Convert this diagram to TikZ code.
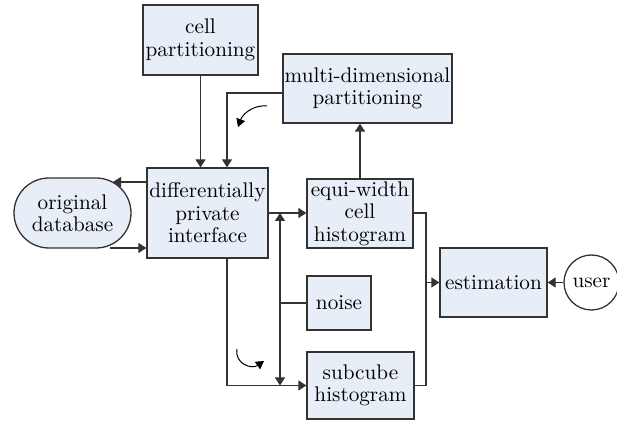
\documentclass[tikz,border=0pt]{standalone}
\usetikzlibrary{arrows.meta,calc,shapes.misc}
\definecolor{boxfill}{HTML}{E7EEF7}
\definecolor{edge}{HTML}{333333}
\begin{document}
\begin{tikzpicture}[x=0.5pt,y=-0.5pt,
  every node/.style={font=\fontsize{10.6}{11.2}\selectfont, inner sep=0pt},
  box/.style={draw=edge, line width=0.65pt, fill=boxfill, align=center},
  conn/.style={draw=edge, line width=0.65pt},
  arr/.style={conn, -{Triangle[length=4pt,width=5pt]}},
  darr/.style={conn, {Triangle[length=4pt,width=5pt]}-{Triangle[length=4pt,width=5pt]}},
  thinarr/.style={draw=black, line width=0.5pt, -{Triangle[length=4pt,width=4.5pt]}}]
\useasboundingbox (0,0) rectangle (617,422);
\node[box, minimum width=57.5pt, minimum height=35pt] (cell) at (200.5,40) {cell\\partitioning};
\node[box, minimum width=84.5pt, minimum height=34.5pt] (mdp) at (367.5,88.5) {multi-dimensional\\partitioning};
\node[box, minimum width=60.5pt, minimum height=45pt] (dpi) at (207.5,213) {differentially\\private\\interface};
\node[box, rounded rectangle, minimum width=58.5pt, minimum height=35pt] (db) at (72.5,213) {original\\database};
\node[box, minimum width=53pt, minimum height=34.5pt] (equi) at (360,213.5) {equi-width\\cell\\histogram};
\node[box, minimum width=32pt, minimum height=27pt] (noise) at (339,303) {noise};
\node[box, minimum width=53.5pt, minimum height=33.5pt] (sub) at (360.5,385.5) {subcube\\histogram};
\node[box, minimum width=53.5pt, minimum height=34.5pt] (est) at (493.5,282.5) {estimation};
\node[draw=edge, line width=0.65pt, circle, minimum size=27.5pt] (user) at (591.5,282.5) {user};
\coordinate (dbtop) at (113,182);
\coordinate (dbbot) at (110,248);
\coordinate (j) at (280,303);
\coordinate (ew) at (426,213);
% connectors
\draw[arr] (dpi.west |- dbtop) -- (dbtop);
\draw[arr] (dbbot) -- (dbbot -| dpi.west);
\draw[arr] (cell.south) -- (cell.south |- dpi.north);
\draw[arr] ($(mdp.west)+(0,4.5)$) -| ($(dpi.north)+(19.5,0)$);
\draw[arr] (dpi.east) -- (dpi.east -| equi.west);
\draw[arr] (equi.north) -- (equi.north |- mdp.south);
\draw[arr] ($(dpi.south)+(19.5,0)$) |- (sub.west);
\draw[conn] (noise.west) -- (j);
\draw[darr] (j |- dpi.east) -- (j |- sub.west);
\draw[conn] (equi.east |- ew) -- (ew) -- (ew |- sub.east) -- (sub.east);
\draw[arr] (ew |- est.west) -- (est.west);
\draw[arr] (user.west) -- (est.east);
% curved arrows
\coordinate (c1a) at (267,106);
\coordinate (c1b) at (238,127);
\coordinate (c2a) at (237,349);
\coordinate (c2b) at (264,361);
\draw[thinarr] (c1a) to[out=175,in=70] (c1b);
\draw[thinarr] (c2a) to[out=-100,in=215,looseness=1.3] (c2b);
\end{tikzpicture}
\end{document}
